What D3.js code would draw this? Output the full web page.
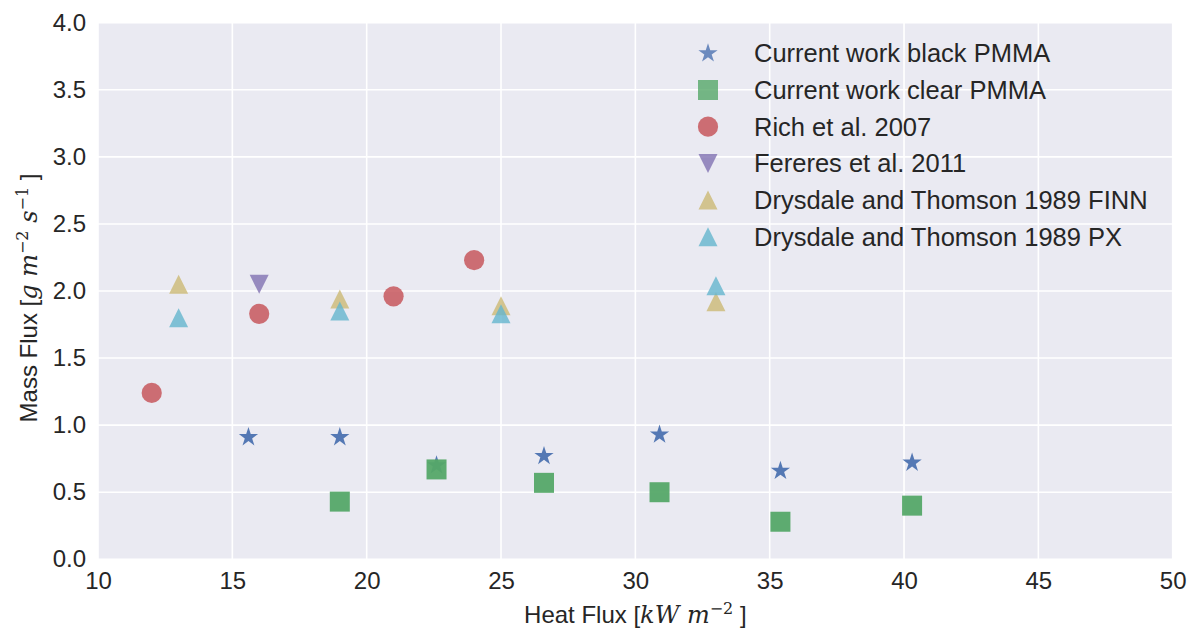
<!DOCTYPE html>
<html>
<head>
<meta charset="utf-8">
<script src="https://cdn.jsdelivr.net/npm/d3@7"></script>
<style>
  body { margin: 0; background: #fff; }
  text { font-family: "Liberation Sans", Arial, sans-serif; fill: #262626; }
  .math { font-family: "DejaVu Serif", "Liberation Serif", serif; font-style: italic; }
</style>
</head>
<body>
<svg id="chart" width="1198" height="639"></svg>
<script>
// series labels
const seriesNames = [
  'Current work black PMMA',
  'Current work clear PMMA',
  'Rich et al. 2007',
  'Fereres et al. 2011',
  'Drysdale and Thomson 1989 FINN',
  'Drysdale and Thomson 1989 PX'
];

// heat flux / mass flux pairs
const blackX = [15.6, 19, 22.6, 26.6, 30.9, 35.4, 40.3];
const blackY = [0.91, 0.91, 0.70, 0.77, 0.93, 0.66, 0.72];
const clearX = [19, 22.6, 26.6, 30.9, 35.4, 40.3];
const clearY = [0.43, 0.67, 0.57, 0.50, 0.28, 0.40];
const richX = [12, 16, 21, 24];
const richY = [1.24, 1.83, 1.96, 2.23];
const fereresX = [16];
const fereresY = [2.05];
const finnX = [13, 19, 25, 33];
const finnY = [2.05, 1.94, 1.89, 1.92];
const pxX = [13, 19, 25, 33];
const pxY = [1.80, 1.85, 1.83, 2.04];

const xTicks = [10, 15, 20, 25, 30, 35, 40, 45, 50];
const yTicks = [0.0, 0.5, 1.0, 1.5, 2.0, 2.5, 3.0, 3.5, 4.0];

const width = 1198, height = 639;
const margin = { top: 22.7, right: 25.3, bottom: 79.7, left: 98 };
const innerW = width - margin.left - margin.right;
const innerH = height - margin.top - margin.bottom;

const svg = d3.select('#chart');
const g = svg.append('g').attr('transform', `translate(${margin.left},${margin.top})`);

const x = d3.scaleLinear().domain([10, 50]).range([0, innerW]);
const y = d3.scaleLinear().domain([0, 4]).range([innerH, 0]);

g.append('rect').attr('width', innerW).attr('height', innerH).attr('fill', '#EAEAF2');

// grid
g.append('g').selectAll('line').data(xTicks).enter().append('line')
  .attr('x1', d => x(d)).attr('x2', d => x(d)).attr('y1', 0).attr('y2', innerH)
  .attr('stroke', '#fff').attr('stroke-width', 1.6);
g.append('g').selectAll('line').data(yTicks).enter().append('line')
  .attr('y1', d => y(d)).attr('y2', d => y(d)).attr('x1', 0).attr('x2', innerW)
  .attr('stroke', '#fff').attr('stroke-width', 1.6);

// axes
const xAxis = g.append('g').attr('transform', `translate(0,${innerH})`)
  .call(d3.axisBottom(x).tickValues(xTicks).tickSize(0).tickPadding(13).tickFormat(d3.format('d')));
const yAxis = g.append('g')
  .call(d3.axisLeft(y).tickValues(yTicks).tickSize(0).tickPadding(12).tickFormat(d3.format('.1f')));
[xAxis, yAxis].forEach(a => {
  a.select('.domain').remove();
  a.selectAll('text').style('font-size', '24px').attr('fill', '#262626');
});
xAxis.selectAll('text').attr('dy', '0.71em');

// matplotlib style triangles (bbox centered)
const triUp = { draw(ctx, size) { const h = Math.sqrt(size) / 2;
  ctx.moveTo(0, -h); ctx.lineTo(h, h); ctx.lineTo(-h, h); ctx.closePath(); } };
const triDown = { draw(ctx, size) { const h = Math.sqrt(size) / 2;
  ctx.moveTo(0, h); ctx.lineTo(h, -h); ctx.lineTo(-h, -h); ctx.closePath(); } };

const series = [
  { xs: blackX, ys: blackY, type: d3.symbolStar, size: 115, color: '#4C72B0', op: 0.95 },
  { xs: clearX, ys: clearY, type: d3.symbolSquare, size: 400, color: '#55A868', op: 0.95 },
  { xs: richX, ys: richY, type: d3.symbolCircle, size: 320, color: '#C44E52', op: 0.8 },
  { xs: fereresX, ys: fereresY, type: triDown, size: 361, color: '#8172B2', op: 0.8 },
  { xs: finnX, ys: finnY, type: triUp, size: 361, color: '#CCB974', op: 0.8 },
  { xs: pxX, ys: pxY, type: triUp, size: 361, color: '#64B5CD', op: 0.8 }
];

series.forEach(s => {
  const pts = s.xs.map((v, i) => [v, s.ys[i]]);
  g.append('g').selectAll('path').data(pts).enter().append('path')
    .attr('transform', d => `translate(${x(d[0])},${y(d[1])})`)
    .attr('d', d3.symbol().type(s.type).size(s.size))
    .attr('fill', s.color).attr('fill-opacity', s.op);
});

// legend
const legend = g.append('g').attr('transform', `translate(${708 - margin.left},${53.3 - margin.top})`);
series.forEach((s, i) => {
  const row = legend.append('g').attr('transform', `translate(0,${i * 36.7})`);
  row.append('path').attr('d', d3.symbol().type(s.type).size(s.size))
    .attr('fill', s.color).attr('fill-opacity', 0.8);
  row.append('text').attr('x', 46).attr('dy', '0.35em')
    .style('font-size', '25.5px').text(seriesNames[i]);
});

// axis labels
const xl = svg.append('text').attr('x', margin.left + innerW / 2).attr('y', 623)
  .attr('text-anchor', 'middle').style('font-size', '24px');
xl.append('tspan').text('Heat Flux [');
xl.append('tspan').attr('class', 'math').text('kW m');
xl.append('tspan').attr('class', 'math').attr('dy', '-9').style('font-size', '16px').style('font-style', 'normal').text('−2');
xl.append('tspan').attr('dy', '9').text(' ]');

const yl = svg.append('text').attr('transform', `translate(37,298) rotate(-90)`)
  .attr('text-anchor', 'middle').style('font-size', '24px');
yl.append('tspan').text('Mass Flux [');
yl.append('tspan').attr('class', 'math').text('g m');
yl.append('tspan').attr('class', 'math').attr('dy', '-9').style('font-size', '16px').style('font-style', 'normal').text('−2');
yl.append('tspan').attr('class', 'math').attr('dy', '9').text('  s');
yl.append('tspan').attr('class', 'math').attr('dy', '-9').style('font-size', '16px').style('font-style', 'normal').text('−1');
yl.append('tspan').attr('dy', '9').text(' ]');
</script>
</body>
</html>
